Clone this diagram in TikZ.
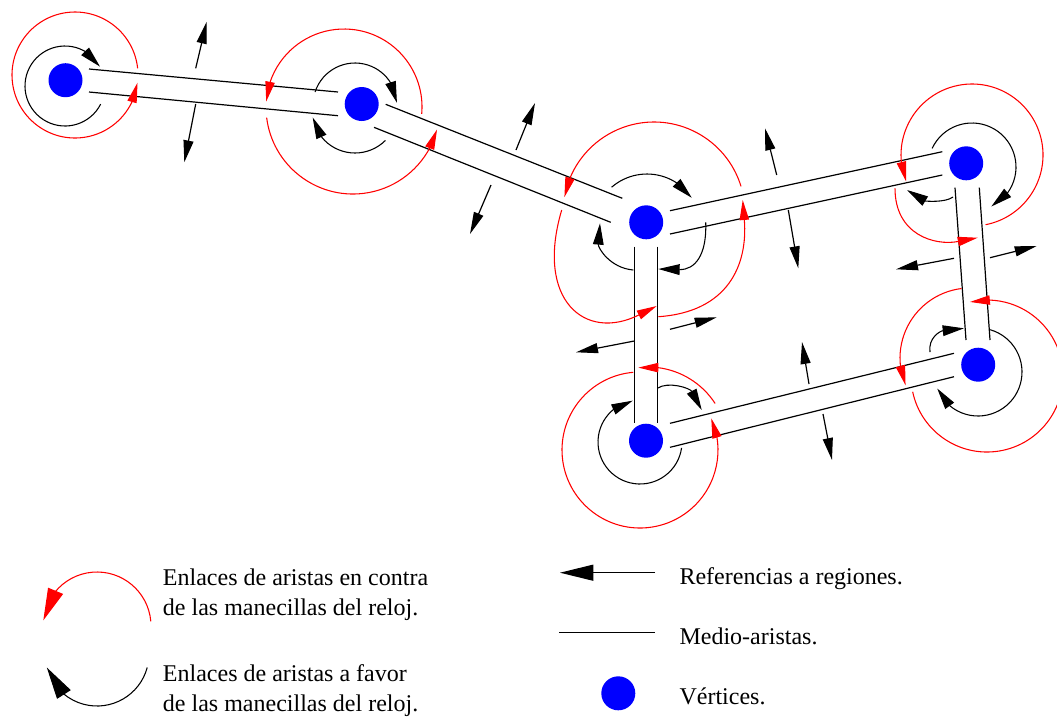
\documentclass[tikz,border=0pt]{standalone}
\usepackage{fontspec}
\setmainfont{Liberation Serif}
\usetikzlibrary{arrows.meta,bending}
\newcommand\carc[6]{\draw[#1] (#2,#3) ++(#5:#4) arc[start angle=#5,end angle=#6,radius=#4];}
\begin{document}
\begin{tikzpicture}[x=0.75pt,y=-0.75pt,
  vert/.style={circle,fill=blue,draw=none,inner sep=0pt,minimum size=25.5pt},
  half/.style={line width=0.9pt},
  ccw/.style={draw=red,line width=0.8pt,-{Triangle[flex,length=15pt,width=7pt,red]}},
  cw/.style={draw=black,line width=0.8pt,-{Triangle[flex,length=16pt,width=8pt]}},
  ccwq/.style={draw=red,line width=0.8pt,-{Triangle[quick,length=15pt,width=7pt,red]}},
  cwq/.style={draw=black,line width=0.8pt,-{Triangle[quick,length=16pt,width=8pt]}},
  reg/.style={line width=0.9pt,-{Triangle[length=16.5pt,width=7.5pt]}},
  legccw/.style={draw=red,line width=0.8pt,-{Triangle[flex,length=24pt,width=12pt,red]}},
  legcw/.style={draw=black,line width=0.8pt,-{Triangle[flex,length=24pt,width=12pt]}},
  legarrow/.style={line width=0.9pt,-{Triangle[length=25pt,width=12pt]}},
  lbl/.style={anchor=base west,inner sep=0pt,font=\fontsize{18pt}{22pt}\selectfont},
]
\useasboundingbox (0,0) rectangle (1057,719);
\clip (0,0) rectangle (1057,719);

% half-edges
\draw[half] (89,69) -- (338,92);
\draw[half] (89,92) -- (338,115.7);
\draw[half] (385.7,104.3) -- (622.3,198.3);
\draw[half] (374,127.3) -- (610.7,222.3);
\draw[half] (670,210.7) -- (942.3,151.7);
\draw[half] (670,234) -- (942.3,175);
\draw[half] (634.3,246.7) -- (634.3,423.3);
\draw[half] (657.7,246.7) -- (657.7,423.3);
\draw[half] (955,187.7) -- (966,340);
\draw[half] (979.3,187.7) -- (990,340);
\draw[half] (670,423.3) -- (954,353.3);
\draw[half] (670,447.3) -- (954,376.7);

% V1
\carc{ccw}{75}{75}{63}{-6}{-353}
\carc{cw}{65}{86}{40}{27}{331}
% V2
\carc{ccw}{344}{107}{78}{5}{-176}
\carc{ccw}{353}{107}{87}{173}{15}
\carc{cw}{355}{105}{42}{198}{357}
\carc{cw}{355}{110}{43}{45}{170}
% V3
\carc{ccw}{654}{213}{91}{-17}{-170}
\draw[ccwq] (561.7,210) .. controls (535,300) and (585,342) .. (656.7,306);
\draw[ccwq] (658.3,316.7) .. controls (728,312) and (748,265) .. (742.7,200);
\carc{cw}{647}{228}{54}{229}{326}
\draw[cwq] (705.7,222.3) .. controls (707,255) and (695,270) .. (658.3,269);
\draw[cwq] (633.3,270) .. controls (610,268) and (598,248) .. (600,223.3);
% V4
\carc{ccw}{972}{155}{71}{79}{-202}
\draw[ccwq] (895,188.3) .. controls (895,235) and (935,246) .. (977.7,237.7);
\carc{cw}{972}{167}{44}{205}{424}
\draw[cwq] (953,197) .. controls (945,203) and (925,201) .. (907,190);
% V5
\carc{ccw}{987}{376}{76}{168}{-103}
\carc{ccw}{970}{358}{70}{263}{157}
\carc{cw}{978}{372}{44}{-74}{158}
\draw[cwq] (930,352) .. controls (928,338) and (940,331) .. (964,328.3);
% V6
\carc{ccw}{640}{450}{78}{265}{-24}
\carc{ccw}{648}{447}{80}{-33}{-97}
\carc{cw}{640}{442}{42}{8}{260}
\draw[cwq] (657.3,388.3) .. controls (668,381) and (690,388) .. (701.7,410);

% region references
\draw[reg] (195.7,68.3) -- (206.7,21.7);
\draw[reg] (195.7,104) -- (184.3,162.3);
\draw[reg] (516,150) -- (535,103);
\draw[reg] (491,185) -- (470,234);
\draw[reg] (776.7,175) -- (765,128.3);
\draw[reg] (788.3,210) -- (798.3,268.3);
\draw[reg] (954,258.3) -- (896,269.3);
\draw[reg] (990,257.7) -- (1036.7,246);
\draw[reg] (670,329.3) -- (716.7,317.3);
\draw[reg] (634.3,341) -- (576,352.3);
\draw[reg] (809,384) -- (802,342);
\draw[reg] (823,414) -- (832,460);

% vertices
\node[vert] (v1) at (65.5,80.2) {};
\node[vert] (v2) at (361.7,104) {};
\node[vert] (v3) at (646.2,222.3) {};
\node[vert] (v4) at (966.2,163.3) {};
\node[vert] (v5) at (978.2,364.7) {};
\node[vert] (v6) at (646,440.7) {};

% legend
\carc{legccw}{97}{626}{54}{-5}{-174}
\carc{legcw}{97}{654}{52}{15}{165}
\node[lbl] (t1) at (162.7,585) {Enlaces de aristas en contra};
\node[lbl] (t2) at (162.7,615) {de las manecillas del reloj.};
\node[lbl] (t3) at (162.7,681.7) {Enlaces de aristas a favor};
\node[lbl] (t4) at (162.7,711.7) {de las manecillas del reloj.};
\coordinate (la1) at (655,572.7);
\coordinate (la2) at (560,572.7);
\draw[legarrow] (la1) -- (la2);
\coordinate (lm1) at (559,632.7);
\coordinate (lm2) at (655,632.7);
\draw[half] (lm1) -- (lm2);
\node[vert] (lv) at (618.3,693.3) {};
\node[lbl] (t5) at (679.3,584.3) {Referencias a regiones.};
\node[lbl] (t6) at (679.3,644.7) {Medio-aristas.};
\node[lbl] (t7) at (679.3,704) {Vértices.};
\end{tikzpicture}
\end{document}
